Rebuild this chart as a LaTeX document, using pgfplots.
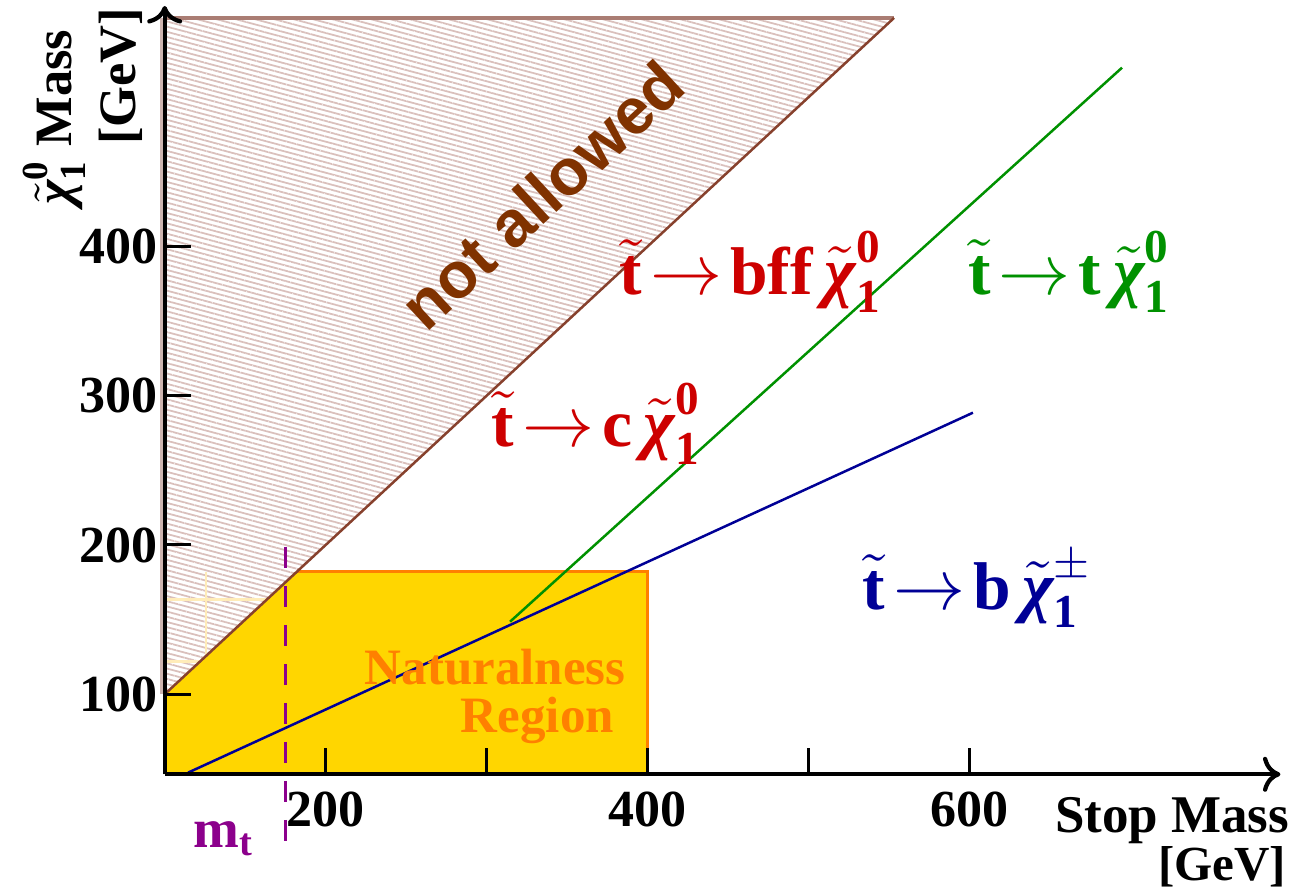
\documentclass[border=0pt]{standalone}
\usepackage{amsmath}
\usepackage{fontspec}
\setmainfont{Liberation Serif}
\newfontfamily\hsans{Liberation Sans}
\usepackage{pgfplots}
\pgfplotsset{compat=1.18}
\usetikzlibrary{patterns.meta,arrows.meta}

\definecolor{natfill}{RGB}{255,214,0}
\definecolor{natedge}{RGB}{255,128,0}
\definecolor{hatchc}{RGB}{218,192,188}
\definecolor{topedge}{RGB}{170,125,115}
\definecolor{leftedge}{RGB}{205,180,175}
\definecolor{diag}{RGB}{135,65,45}
\definecolor{nabrown}{RGB}{128,50,0}
\definecolor{redlbl}{RGB}{205,0,0}
\definecolor{grn}{RGB}{0,145,0}
\definecolor{navy}{RGB}{0,0,150}
\definecolor{purp}{RGB}{140,0,140}
\definecolor{faint}{RGB}{255,236,185}

% stop and neutralino/chargino symbols
\newcommand{\stp}{\tilde{\text{t}}}
\newcommand{\chiz}{\tilde{\text{\itshape χ}}^{\text{0}}_{\text{1}}}
\newcommand{\chipm}{\tilde{\text{\itshape χ}}^{\pm}_{\text{1}}}

\begin{document}
\begin{tikzpicture}
\useasboundingbox (-32.94pt,-23.74pt) rectangle (225.86pt,154.86pt);
\begin{axis}[
  x=0.322pt, y=0.2986pt,
  xmin=100, xmax=793, ymin=46.4, ymax=561,
  axis lines=left,
  axis on top,
  clip=false,
  axis line style={line width=0.85pt, black, -{To[length=3.5pt,width=7pt]}},
  xtick={200,300,400,500,600},
  xticklabels={200,,400,,600},
  ytick={100,200,300,400},
  tick align=inside,
  major tick length=5.3pt,
  tick style={line width=0.6pt, black},
  /pgf/number format/assume math mode=true,
  ticklabel style={font=\fontsize{10.4}{12}\selectfont\bfseries},
  yticklabel style={inner xsep=1.2pt},
]
% naturalness region
\addplot[draw=none, fill=natfill] coordinates {(100,46.4) (400,46.4) (400,182) (100,182) (100,46.4)};
\addplot[natedge, line width=0.55pt] coordinates {(100,182) (400,182) (400,46.4)};

% kinematically forbidden triangle (neutralino heavier than stop)
\addplot[draw=none, preaction={fill=white}, pattern={Lines[angle=-15,distance=1pt,line width=0.35pt]}, pattern color=hatchc]
  coordinates {(100,100) (553,553) (100,553) (100,100)};
\addplot[faint, line width=0.5pt] coordinates {(100,163.4) (163.4,163.4)};
\addplot[faint, line width=0.5pt] coordinates {(100,121.8) (121.8,121.8)};
\addplot[faint, line width=0.5pt] coordinates {(125.6,182) (125.6,125.6)};
\addplot[topedge, line width=0.8pt] coordinates {(100,553) (553,553)};
\addplot[leftedge, line width=0.7pt, xshift=-0.55pt] coordinates {(100,100) (100,553)};
\addplot[diag, line width=0.5pt] coordinates {(100,100) (553,553)};

% decay thresholds
\addplot[grn, line width=0.5pt] coordinates {(314.5,148.6) (694.6,519.7)};
\addplot[navy, line width=0.5pt] coordinates {(114.5,47.5) (602,288.6)};
\addplot[purp, line width=0.6pt, dash pattern=on 4.3pt off 3.5pt] coordinates {(175.2,198.7) (175.2,-5)};

% labels
\node[rotate=42.8, nabrown, font=\hsans\fontsize{13}{15}\selectfont\bfseries] at (axis cs:334.3,434.6) {not allowed};
\node[anchor=base, redlbl, font=\fontsize{13.5}{16}\selectfont\bfseries] at (axis cs:464.2,367.6) {$\stp\!\rightarrow\!\text{bff}\,\chiz$};
\node[anchor=base, redlbl, font=\fontsize{13.5}{16}\selectfont\bfseries] at (axis cs:368.2,265.8) {$\stp\!\rightarrow\!\text{c}\,\chiz$};
\node[anchor=base, grn, font=\fontsize{13.5}{16}\selectfont\bfseries] at (axis cs:662,367.6) {$\stp\!\rightarrow\!\text{t}\,\chiz$};
\node[anchor=base, navy, font=\fontsize{13.5}{16}\selectfont\bfseries] at (axis cs:604.8,156.7) {$\stp\!\rightarrow\!\text{b}\,\chipm$};
\node[anchor=base, natedge, font=\fontsize{10.2}{12}\selectfont\bfseries] at (axis cs:305.3,106.4) {Naturalness};
\node[anchor=base, natedge, font=\fontsize{10.2}{12}\selectfont\bfseries] at (axis cs:331.5,74.3) {Region};
\node[anchor=base west, inner sep=0pt, purp, font=\fontsize{11}{13}\selectfont\bfseries] at (axis cs:117.5,-2.7) {m$_{\text{t}}$};

% axis titles
\node[anchor=base east, inner sep=0pt, font=\fontsize{10.6}{12}\selectfont\bfseries] at (axis cs:799,7.3) {Stop Mass};
\node[anchor=north east, inner sep=0pt, font=\fontsize{9.8}{12}\selectfont\bfseries] at (axis cs:797,-1.5) {[GeV]};
\node[rotate=90, anchor=base, font=\fontsize{10.5}{12}\selectfont\bfseries] at (axis cs:42.4,486.5) {$\chiz$ Mass};
\node[rotate=90, anchor=base, font=\fontsize{10.5}{12}\selectfont\bfseries] at (axis cs:81.6,514) {[GeV]};
\end{axis}
\end{tikzpicture}
\end{document}
